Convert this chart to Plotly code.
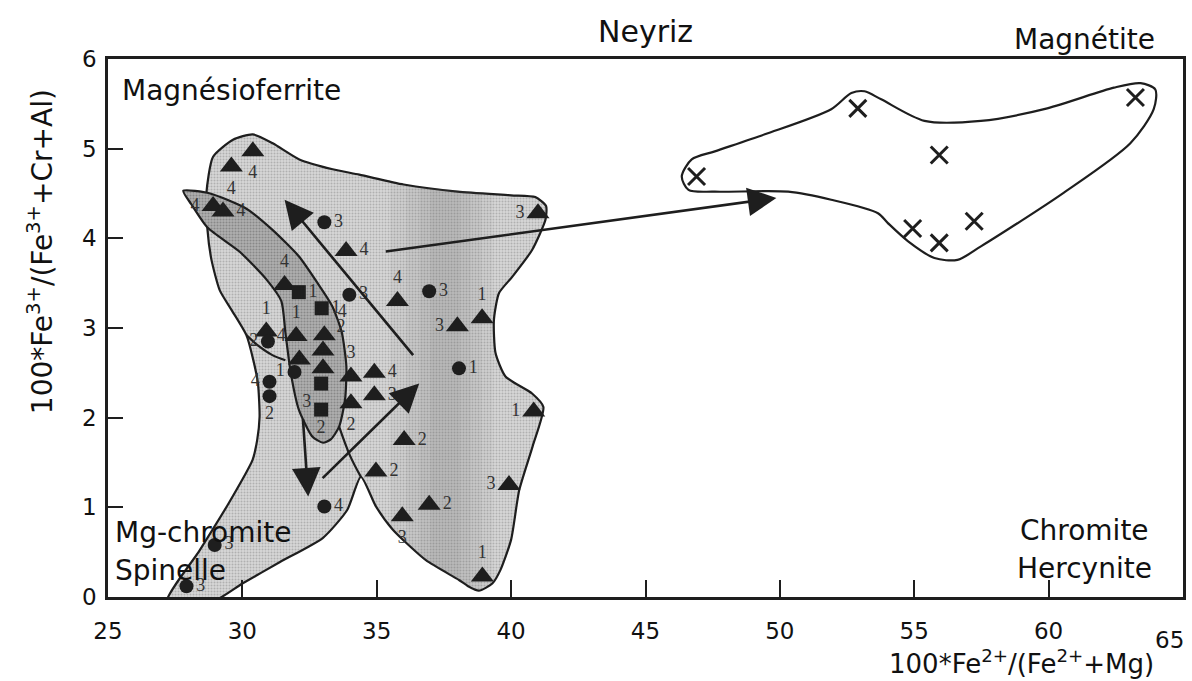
import plotly.graph_objects as go

# ---------------- axis ticks ----------------
x_ticks = [25, 30, 35, 40, 45, 50, 55, 60]
x_tick_text = ["25", "30", "35", "40", "45", "50", "55", "60"]
x_last_tick = "65"
y_ticks = [0, 1, 2, 3, 4, 5, 6]
y_tick_text = ["0", "1", "2", "3", "4", "5", "6"]

# ---------------- data points ----------------
tri_x = [30.39, 29.59, 28.91, 29.28, 33.86, 31.57, 30.89, 32.0, 33.05, 32.12, 33.0, 33.0,
         34.04, 34.04, 34.91, 34.91, 35.77, 38.0, 38.92, 40.84, 41.0, 36.02, 34.97, 35.95,
         36.95, 39.92, 38.93]
tri_y = [4.97, 4.80, 4.36, 4.30, 3.86, 3.48, 2.96, 2.91, 2.92, 2.65, 2.75, 2.55,
         2.46, 2.16, 2.50, 2.25, 3.30, 3.02, 3.11, 2.07, 4.28, 1.75, 1.40, 0.90,
         1.03, 1.25, 0.23]
tri_lab = ["4", "4", "4", "4", "4", "4", "1", "1", "4", "4", "2", " ",
           "3", "2", "4", "3", "4", "3", "1", "1", "3", "2", "2", "3",
           "2", "3", "1"]
tri_side = ["bottom center", "bottom center", "middle left", "middle right", "middle right",
            "top center", "top center", "top center", "top right", "top left", "top right", "middle right",
            "top center", "bottom center", "middle right", "middle right", "top center", "middle left",
            "top center", "middle left", "middle left", "middle right", "middle right", "bottom center",
            "middle right", "middle left", "top center"]

circ_x = [33.05, 33.98, 36.95, 38.06, 30.95, 31.01, 31.01, 31.94, 33.05, 28.97, 27.92]
circ_y = [4.18, 3.37, 3.41, 2.55, 2.85, 2.40, 2.24, 2.51, 1.01, 0.58, 0.12]
circ_lab = ["3", "3", "3", "1", "2", "4", "2", "1", "4", "3", "3"]
circ_side = ["middle right", "middle right", "middle right", "middle right", "middle left",
             "middle left", "bottom center", "middle left", "middle right", "middle right", "middle right"]

sq_x = [32.1, 32.95, 32.93, 32.93]
sq_y = [3.40, 3.22, 2.38, 2.09]
sq_lab = ["1", "1", "3", "2"]
sq_side = ["middle right", "middle right", "bottom left", "bottom center"]

mag_x = [46.9, 52.9, 55.93, 63.23, 54.94, 55.93, 57.23]
mag_y = [4.69, 5.45, 4.93, 5.57, 4.11, 3.95, 4.19]

# ---------------- field outlines ----------------
field_a_x = [27.2, 28.41, 29.48, 30.38, 30.55, 30.64, 30.58, 30.4, 30.15, 29.6, 29.16, 28.85, 28.7,
             28.66, 28.91, 29.65, 30.39, 31.13, 32.12, 33.36, 34.35, 36.0, 38.0, 40.0, 40.9, 41.3,
             41.28, 40.78, 40.04, 39.55, 39.36, 39.42, 39.79, 40.78, 41.2, 40.8, 40.3, 40.0, 39.6,
             39.3, 38.8, 38.4, 38.06, 36.83, 35.6, 34.97, 34.41, 33.9, 33.0, 31.4, 30.0, 28.9, 27.2]
field_a_y = [-0.05, 0.52, 1.04, 1.53, 1.75, 2.01, 2.38, 2.65, 2.92, 3.2, 3.42, 3.76, 4.1,
             4.5, 4.91, 5.10, 5.16, 5.06, 4.88, 4.77, 4.71, 4.6, 4.52, 4.48, 4.46, 4.36,
             4.21, 3.87, 3.57, 3.39, 3.09, 2.72, 2.46, 2.27, 2.12, 1.68, 1.19, 0.64, 0.3,
             0.15, 0.07, 0.12, 0.19, 0.41, 0.75, 1.01, 1.34, 0.97, 0.66, 0.39, 0.15, -0.05, -0.05]

field_b_x = [27.8, 28.8, 30.15, 31.1, 32.1, 32.8, 33.35, 33.7, 33.87, 33.82, 33.6, 33.3, 33.0,
             32.6, 32.1, 31.8, 31.6, 31.45, 30.9, 29.9, 28.7, 28.1, 27.8]
field_b_y = [4.53, 4.5, 4.33, 4.10, 3.80, 3.5, 3.24, 2.95, 2.57, 2.2, 1.9, 1.76, 1.72,
             1.79, 2.09, 2.5, 2.95, 3.3, 3.54, 3.85, 4.12, 4.38, 4.53]

# soft scan shading inside the field (nested bands)
shade_bands_x = [
    [35.5, 39.3, 39.3, 38.8, 38.06, 36.83, 35.6, 35.5, 35.5],
    [36.1, 38.9, 38.9, 38.8, 38.06, 36.83, 36.1, 36.1],
    [36.6, 38.5, 38.5, 38.06, 36.83, 36.6, 36.6],
    [37.0, 38.1, 38.1, 36.83, 37.0, 37.0],
]
shade_bands_y = [
    [4.60, 4.50, 0.16, 0.07, 0.19, 0.41, 0.75, 0.80, 4.60],
    [4.59, 4.51, 0.08, 0.07, 0.19, 0.41, 0.60, 4.59],
    [4.57, 4.52, 0.12, 0.19, 0.41, 0.45, 4.57],
    [4.56, 4.52, 0.19, 0.41, 0.39, 4.56],
]

line1_x = [30.15, 30.6, 31.1, 31.6]
line1_y = [2.92, 2.8, 2.7, 2.64]
line2_x = [33.6, 34.0, 34.41]
line2_y = [1.9, 1.58, 1.34]

mag_field_x = [46.35, 46.72, 47.58, 49.44, 51.91, 52.66, 53.15, 53.77, 55.38, 57.48, 59.95, 62.43,
               63.42, 63.97, 63.91, 63.04, 60.57, 57.48, 56.61, 55.75, 54.76, 54.02, 53.65, 51.91,
               50.31, 47.58, 46.6, 46.35]
mag_field_y = [4.69, 4.88, 4.97, 5.16, 5.44, 5.62, 5.64, 5.55, 5.31, 5.31, 5.45, 5.68,
               5.73, 5.66, 5.44, 5.06, 4.51, 3.91, 3.76, 3.78, 3.97, 4.17, 4.28, 4.43,
               4.52, 4.52, 4.54, 4.69]

# ---------------- arrows (tail -> head) ----------------
arrow_x0 = [36.4, 32.25, 32.93, 35.28]
arrow_y0 = [2.68, 2.0, 1.31, 3.85]
arrow_x1 = [31.57, 32.45, 36.58, 49.87]
arrow_y1 = [4.43, 1.12, 2.38, 4.45]

INK = "#1e1e1e"
SANS = "DejaVu Sans"
SERIF = "Liberation Serif"

fig = go.Figure()

fig.add_trace(go.Scatter(
    x=field_a_x, y=field_a_y, mode="lines", fill="toself",
    line=dict(color=INK, width=2.2, shape="spline", smoothing=0.6),
    fillcolor="#cfcfcf",
    fillpattern=dict(shape=".", bgcolor="#d6d6d6", fgcolor="#8a8a8a", size=3, solidity=0.35),
    hoverinfo="skip", showlegend=False))

for bx, by in zip(shade_bands_x, shade_bands_y):
    fig.add_trace(go.Scatter(
        x=bx, y=by, mode="lines", fill="toself",
        line=dict(width=0), fillcolor="rgba(80,80,80,0.06)",
        hoverinfo="skip", showlegend=False))

fig.add_trace(go.Scatter(
    x=field_b_x, y=field_b_y, mode="lines", fill="toself",
    line=dict(color=INK, width=2.2, shape="spline", smoothing=0.6),
    fillcolor="#a9a9a9",
    fillpattern=dict(shape=".", bgcolor="#b0b0b0", fgcolor="#606060", size=3, solidity=0.4),
    hoverinfo="skip", showlegend=False))

for lx, ly in [(line1_x, line1_y), (line2_x, line2_y)]:
    fig.add_trace(go.Scatter(x=lx, y=ly, mode="lines",
                             line=dict(color=INK, width=2.2, shape="spline"),
                             hoverinfo="skip", showlegend=False))

fig.add_trace(go.Scatter(
    x=mag_field_x, y=mag_field_y, mode="lines",
    line=dict(color=INK, width=2.2, shape="spline", smoothing=0.8),
    hoverinfo="skip", showlegend=False))

label_font = dict(family=SERIF, size=18, color="#333333")

fig.add_trace(go.Scatter(
    x=tri_x, y=tri_y, mode="markers+text", text=tri_lab, textposition=tri_side,
    textfont=label_font,
    marker=dict(symbol="triangle-up", size=20, color=INK, line=dict(width=0)),
    hoverinfo="skip", showlegend=False, cliponaxis=False))

fig.add_trace(go.Scatter(
    x=circ_x, y=circ_y, mode="markers+text", text=circ_lab, textposition=circ_side,
    textfont=label_font,
    marker=dict(symbol="circle", size=14, color=INK, line=dict(width=0)),
    hoverinfo="skip", showlegend=False, cliponaxis=False))

fig.add_trace(go.Scatter(
    x=sq_x, y=sq_y, mode="markers+text", text=sq_lab, textposition=sq_side,
    textfont=label_font,
    marker=dict(symbol="square", size=14, color=INK, line=dict(width=0)),
    hoverinfo="skip", showlegend=False, cliponaxis=False))

fig.add_trace(go.Scatter(
    x=mag_x, y=mag_y, mode="markers",
    marker=dict(symbol="x-thin", size=17, color=INK, line=dict(width=3, color=INK)),
    hoverinfo="skip", showlegend=False))

annotations = []
for x0, y0, x1, y1 in zip(arrow_x0, arrow_y0, arrow_x1, arrow_y1):
    annotations.append(dict(
        x=x1, y=y1, ax=x0, ay=y0, xref="x", yref="y", axref="x", ayref="y",
        text="", showarrow=True, arrowhead=2, arrowsize=2.2, arrowwidth=2.6,
        arrowcolor=INK, standoff=0, startstandoff=0))

# paper coords relative to plot area
L, R, T, B = 108, 1186, 59, 597


def pp(x, y, text, size=26, xanchor="center", yanchor="middle", angle=0):
    return dict(text=text, x=(x - L) / (R - L), y=(B - y) / (B - T), xref="paper", yref="paper",
                xanchor=xanchor, yanchor=yanchor, showarrow=False, textangle=angle,
                font=dict(family=SANS, size=size, color="#111111"))


annotations += [
    pp(647, 31, "Neyriz", size=30),
    pp(1087, 39, "Magnétite", size=28),
    pp(120, 90, "Magnésioferrite", size=28, xanchor="left"),
    pp(113, 532, "Mg-chromite", size=28, xanchor="left"),
    pp(113, 570, "Spinelle", size=28, xanchor="left"),
    pp(1087, 530, "Chromite", size=28),
    pp(1087, 568, "Hercynite", size=28),
    pp(1172, 640, x_last_tick, size=23),
    pp(1024, 681, "100*Fe<sup>2+</sup>/(Fe<sup>2+</sup>+Mg)", size=26, yanchor="bottom"),
    pp(40, 252, "100*Fe<sup>3+</sup>/(Fe<sup>3+</sup>+Cr+Al)", size=28, angle=-90),
]

fig.update_layout(
    width=1192, height=681,
    margin=dict(l=L, r=1192 - R, t=T, b=681 - B),
    paper_bgcolor="white", plot_bgcolor="white",
    annotations=annotations,
    showlegend=False,
)
fig.update_xaxes(range=[25, 65], tickvals=x_ticks, ticktext=x_tick_text,
                 ticks="inside", ticklen=17, tickwidth=2, tickcolor=INK,
                 showline=True, linewidth=2.5, linecolor=INK, mirror=True,
                 showgrid=False, zeroline=False, ticklabelstandoff=12,
                 tickfont=dict(family=SANS, size=23, color="#111111"))
fig.update_yaxes(range=[0, 6], tickvals=y_ticks, ticktext=y_tick_text,
                 ticks="inside", ticklen=15, tickwidth=2, tickcolor=INK,
                 showline=True, linewidth=2.5, linecolor=INK, mirror=True,
                 showgrid=False, zeroline=False, ticklabelstandoff=4,
                 tickfont=dict(family=SANS, size=23, color="#111111"))

fig.write_html("out.html", config={"displayModeBar": False},
               post_script="document.body.style.margin='0';document.body.style.overflow='hidden';")
